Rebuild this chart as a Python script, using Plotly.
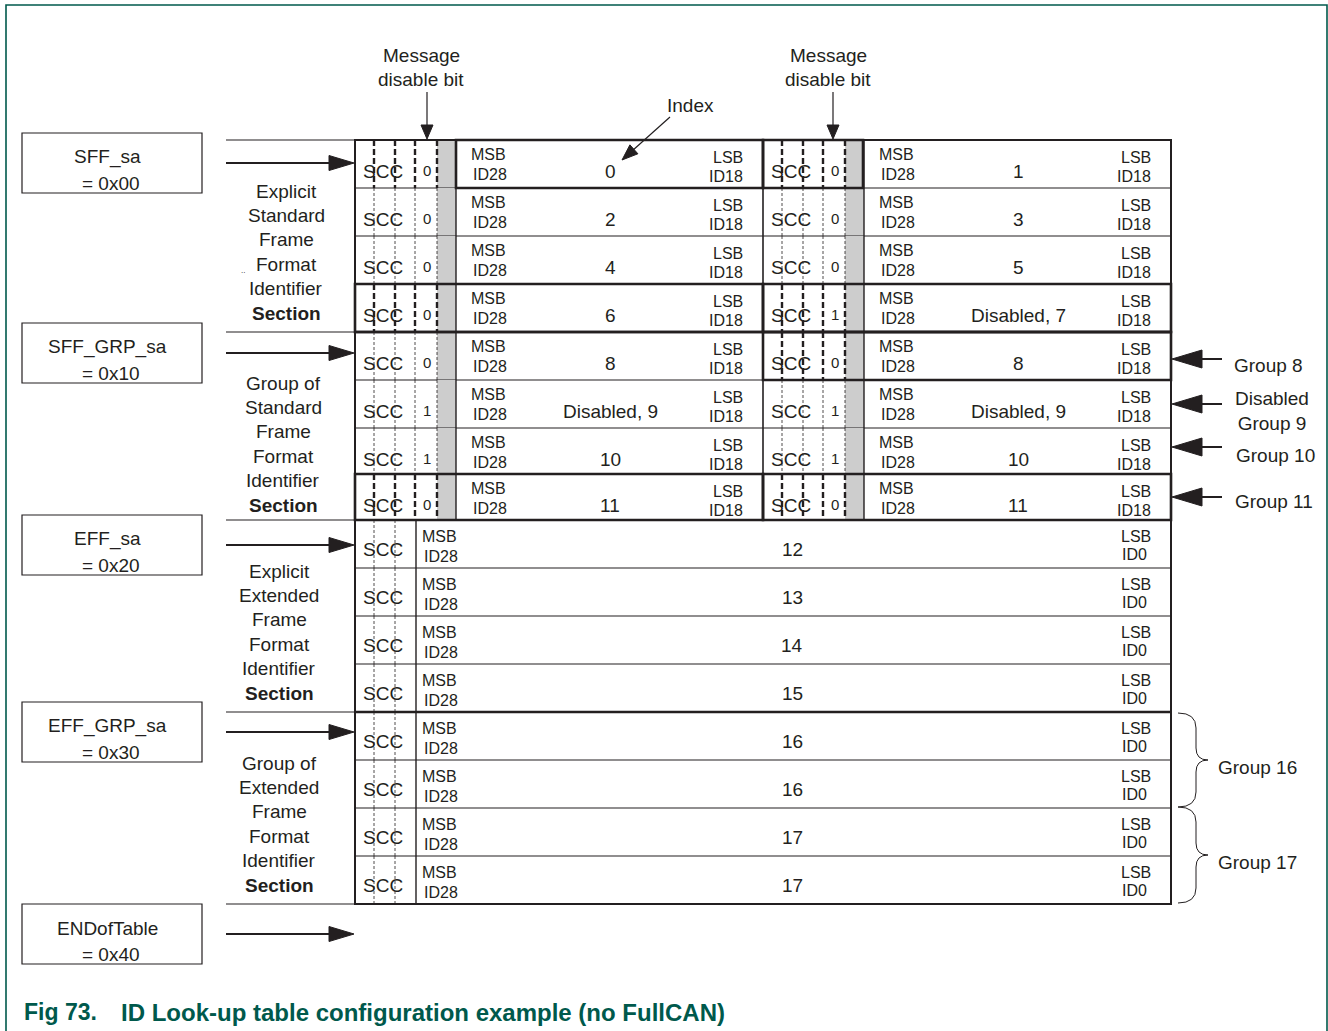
import math
import plotly.graph_objects as go

# ---- diagram content ----
std_left_ids = ["0", "2", "4", "6", "8", "Disabled, 9", "10", "11"]
std_right_ids = ["1", "3", "5", "Disabled, 7", "8", "Disabled, 9", "10", "11"]
std_left_bits = ["0", "0", "0", "0", "0", "1", "1", "0"]
std_right_bits = ["0", "0", "0", "1", "0", "1", "1", "0"]
ext_ids = ["12", "13", "14", "15", "16", "16", "17", "17"]

start_names = ["SFF_sa", "SFF_GRP_sa", "EFF_sa", "EFF_GRP_sa", "ENDofTable"]
start_values = ["= 0x00", "= 0x10", "= 0x20", "= 0x30", "= 0x40"]

section_labels = [
    ["Explicit", "Standard", "Frame", "Format", "Identifier", "<b>Section</b>"],
    ["Group of", "Standard", "Frame", "Format", "Identifier", "<b>Section</b>"],
    ["Explicit", "Extended", "Frame", "Format", "Identifier", "<b>Section</b>"],
    ["Group of", "Extended", "Frame", "Format", "Identifier", "<b>Section</b>"],
]

group_labels = ["Group 8", "Disabled<br>Group 9", "Group 10", "Group 11"]
brace_labels = ["Group 16", "Group 17"]
caption_num = "Fig 73."
caption_text = "ID Look-up table configuration example (no FullCAN)"

# ---- geometry / style ----
W, H = 1328, 1031
FONT = "Liberation Sans, Arial, sans-serif"
INK = "#231f20"
GREEN = "#00594c"
GRAY = "#cdcdcd"

T_L, T_R, MID = 355, 1171, 763
std_edges = [140, 188, 236, 284, 332, 380, 428, 474, 520]
ext_edges = [520 + 48 * i for i in range(9)]
section_tops = [140, 332, 520, 712, 904]
box_tops = [133, 323, 515, 702, 904]
section_x = [286, 283, 279, 279]

shapes = []
annotations = []


def seg(x0, y0, x1, y1, w=1.2, dash="solid", color=INK):
    shapes.append(dict(type="line", xref="x", yref="y", x0=x0, y0=y0, x1=x1, y1=y1,
                       line=dict(color=color, width=w, dash=dash)))


def rect(x0, y0, x1, y1, w=1.2, fill="rgba(0,0,0,0)", color=INK):
    shapes.append(dict(type="rect", xref="x", yref="y", x0=x0, y0=y0, x1=x1, y1=y1,
                       fillcolor=fill, line=dict(color=color, width=w), layer="above"))


def head(tx, ty, dx, dy, length, half):
    n = math.hypot(dx, dy)
    ux, uy = dx / n, dy / n
    bx, by = tx - ux * length, ty - uy * length
    px, py = -uy * half, ux * half
    path = (f"M {tx},{ty} L {bx + px},{by + py} L {bx - px},{by - py} Z")
    shapes.append(dict(type="path", xref="x", yref="y", path=path,
                       fillcolor=INK, line=dict(color=INK, width=1)))


def txt(x, y, s, size=19, anchor="center", color=INK):
    annotations.append(dict(x=x, y=y, xref="x", yref="y", text=s, showarrow=False,
                            xanchor=anchor, yanchor="middle",
                            font=dict(size=size, color=color, family=FONT)))


# ---- standard frame rows (two entries per row) ----
bold_left = {0, 3, 7}
bold_right = {0, 3, 4, 7}
for i in range(8):
    t, b = std_edges[i], std_edges[i + 1]
    for x0, ids, bits, bold in [(T_L, std_left_ids, std_left_bits, bold_left),
                                (MID, std_right_ids, std_right_bits, bold_right)]:
        rect(x0 + 82, t, x0 + 101, b, w=0, fill=GRAY)
        for off in [19, 40, 60, 82]:
            if i in bold:
                seg(x0 + off, t, x0 + off, b, w=2.4, dash="6px,3px")
            else:
                seg(x0 + off, t, x0 + off, b, w=0.8, dash="3px,2px")
        seg(x0 + 101, t, x0 + 101, b, w=1.4)
        txt(x0 + 28, t + 31, "SCC", size=19)
        txt(x0 + 72, t + 30, bits[i], size=15)
        txt(x0 + 114, t + 14, "MSB", size=16, anchor="left")
        txt(x0 + 116, t + 34, "ID28", size=16, anchor="left")
        txt(x0 + 255, t + 31, ids[i], size=19)
        txt(x0 + 390, t + 17, "LSB", size=16, anchor="right")
        txt(x0 + 390, t + 36, "ID18", size=16, anchor="right")
    seg(T_L, b, T_R, b, w=1.2)
seg(MID, std_edges[0], MID, std_edges[-1], w=1.6)

# ---- extended frame rows ----
for i in range(8):
    t, b = ext_edges[i], ext_edges[i + 1]
    for off in [19, 40]:
        seg(T_L + off, t, T_L + off, b, w=0.8, dash="3px,2px")
    txt(T_L + 28, t + 29, "SCC", size=19)
    txt(420, t + 16, "MSB", size=16, anchor="left")
    txt(422, t + 36, "ID28", size=16, anchor="left")
    txt(792, t + 29, ext_ids[i], size=19)
    txt(1136, t + 16, "LSB", size=16)
    txt(1134, t + 34, "ID0", size=16)
    seg(T_L, b, T_R, b, w=1.2)
seg(416, ext_edges[0], 416, ext_edges[-1], w=1.4)

# ---- emphasised outlines ----
rect(456, 140, MID, 188, w=2.6)
rect(MID, 140, 863, 188, w=2.6)
rect(T_L, 284, MID, 332, w=2.6)
rect(MID, 284, T_R, 332, w=2.6)
rect(MID, 332, T_R, 380, w=2.6)
rect(T_L, 474, MID, 520, w=2.6)
rect(MID, 474, T_R, 520, w=2.6)
seg(T_L, 332, T_R, 332, w=2.6)
seg(T_L, 712, T_R, 712, w=2.6)
rect(T_L, 140, T_R, 904, w=2.0)

# ---- start address boxes and arrows ----
for k in range(5):
    bt = box_tops[k]
    rect(22, bt, 202, bt + 60, w=1.2)
    txt(107, bt + 24, start_names[k], size=19)
    txt(111, bt + 50, start_values[k], size=19)
    ay = bt + 30
    seg(226, ay, 332, ay, w=2.2)
    head(354, ay, 1, 0, 25, 7.5)
    seg(226, section_tops[k], T_L, section_tops[k], w=1.2)

# ---- section captions ----
for k, lines in enumerate(section_labels):
    for j, s in enumerate(lines):
        txt(section_x[k], section_tops[k] + 51 + 24.4 * j, s, size=19)
txt(243, 270, "..", size=8)

# ---- message disable bit / index callouts ----
for cx, ax in [(421, 427), (828, 833)]:
    txt(cx, 55, "Message", size=19)
    txt(cx, 79, "disable bit", size=19)
    seg(ax, 92, ax, 126, w=1.2)
    head(ax, 139, 0, 1, 14, 6)
txt(690, 105, "Index", size=19)
seg(670, 117, 632, 151, w=1.2)
head(622, 160, -48, 43, 16, 6)

# ---- group arrows on the right ----
group_y = [359, 404, 447, 497]
group_text_y = [365, 411, 455, 501]
group_text_x = [1268, 1272, 1275, 1274]
for k in range(4):
    gy = group_y[k]
    seg(1200, gy, 1222, gy, w=2.0)
    head(1172, gy, -1, 0, 30, 9)
    txt(group_text_x[k], group_text_y[k], group_labels[k], size=19)

# ---- braces ----
for k, (top, bot) in enumerate([(713, 807), (807, 903)]):
    m = (top + bot) / 2
    path = (f"M 1178,{top} Q 1196,{top} 1196,{top + 15} L 1196,{m - 12} "
            f"Q 1196,{m} 1208,{m} Q 1196,{m} 1196,{m + 12} L 1196,{bot - 15} "
            f"Q 1196,{bot} 1178,{bot}")
    shapes.append(dict(type="path", xref="x", yref="y", path=path,
                       line=dict(color=INK, width=1)))
    txt(1257, m + 7, brace_labels[k], size=19)

# ---- frame and caption ----
rect(6, 5, 1327, 1045, w=1.6, color=GREEN)
annotations.append(dict(x=22, y=1012, xref="x", yref="y", text=f"<b>{caption_num}</b>",
                        showarrow=False, xanchor="left", yanchor="middle",
                        font=dict(size=23, color=GREEN, family=FONT)))
annotations.append(dict(x=119, y=1012, xref="x", yref="y", text=f"<b>{caption_text}</b>",
                        showarrow=False, xanchor="left", yanchor="middle",
                        font=dict(size=24, color=GREEN, family=FONT)))

fig = go.Figure()
fig.update_layout(
    width=W, height=H,
    margin=dict(l=0, r=0, t=0, b=0),
    paper_bgcolor="white", plot_bgcolor="white",
    xaxis=dict(range=[0, W], visible=False, fixedrange=True),
    yaxis=dict(range=[H, 0], visible=False, fixedrange=True),
    shapes=shapes,
    annotations=annotations,
    showlegend=False,
)

fig.write_html("out.html", config={"displayModeBar": False},
               post_script="document.body.style.margin='0';document.body.style.overflow='hidden';")
